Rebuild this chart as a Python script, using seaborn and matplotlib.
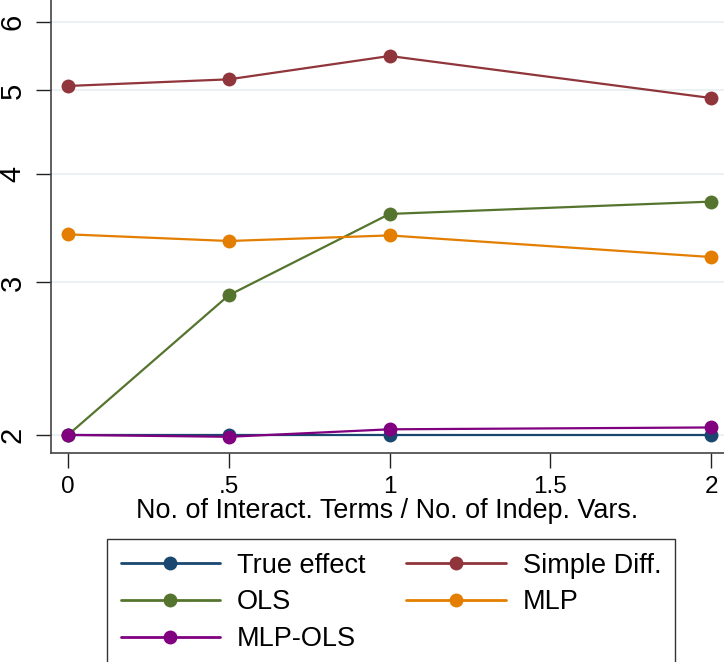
import matplotlib
matplotlib.use("Agg")
import matplotlib.pyplot as plt
import matplotlib.ticker as mticker
import numpy as np
import pandas as pd
import seaborn as sns

# Ratio of interaction terms to independent variables
x_vals = [0, 0.5, 1, 2]

true_effect = [2.0, 2.0, 2.0, 2.0]
simple_diff = [5.06, 5.15, 5.48, 4.90]
ols = [2.0, 2.90, 3.60, 3.72]
mlp = [3.41, 3.35, 3.40, 3.21]
mlp_ols = [2.0, 1.99, 2.03, 2.04]

series_names = ["True effect", "Simple Diff.", "OLS", "MLP", "MLP-OLS"]
series_colors = ["#1a476f", "#90353b", "#55752f", "#e37e00", "#800080"]

x_ticks = [0, 0.5, 1, 1.5, 2]
x_tick_labels = ["0", ".5", "1", "1.5", "2"]
y_ticks = [2, 3, 4, 5, 6]
y_tick_labels = ["2", "3", "4", "5", "6"]

df = pd.DataFrame({
    "x": x_vals * 5,
    "value": true_effect + simple_diff + ols + mlp + mlp_ols,
    "series": sum([[n] * len(x_vals) for n in series_names], []),
})

sns.set_theme(style="white")
plt.rcParams["font.family"] = ["Liberation Sans", "DejaVu Sans"]
plt.rcParams["text.color"] = "black"
plt.rcParams["axes.labelcolor"] = "black"
plt.rcParams["xtick.color"] = "black"
plt.rcParams["ytick.color"] = "black"

fig = plt.figure(figsize=(7.24, 6.62), dpi=100)
ax = fig.add_axes([51 / 724, 1 - 453 / 662, 1 - 51 / 724, 453 / 662])

sns.lineplot(data=df, x="x", y="value", hue="series", hue_order=series_names,
             palette=series_colors, marker="o", markersize=10, markeredgewidth=0,
             linewidth=1.6, ax=ax, legend=True)

ax.set_yscale("log")
ax.set_ylim(1.906, 6.36)
ax.set_xlim(-0.053, 2.04)

ax.yaxis.set_major_locator(mticker.FixedLocator(y_ticks))
ax.yaxis.set_major_formatter(mticker.FixedFormatter(y_tick_labels))
ax.yaxis.set_minor_locator(mticker.NullLocator())
ax.set_xticks(x_ticks)
ax.set_xticklabels(x_tick_labels)

for yt in y_ticks:
    ax.axhline(yt, color="#eaf2f3", linewidth=1.5, zorder=0)

ax.tick_params(axis="both", which="major", direction="out", length=11, width=1,
               color="#222222", left=True, bottom=True)
ax.tick_params(axis="x", labelsize=17.5, pad=5.5)
ax.tick_params(axis="y", labelsize=21, pad=6.5)
for lab in ax.get_yticklabels():
    lab.set_rotation(90)
    lab.set_va("center")

for s in ["top", "right"]:
    ax.spines[s].set_visible(False)
for s in ["left", "bottom"]:
    ax.spines[s].set_color("#444444")
    ax.spines[s].set_linewidth(1.2)

ax.set_xlabel("No. of Interact. Terms / No. of Indep. Vars.", fontsize=19.4, labelpad=0)
ax.set_ylabel("")

handles, labels = ax.get_legend_handles_labels()
ax.get_legend().remove()
# Reorder so that the legend reads row-wise in two columns
order = [0, 2, 4, 1, 3]
leg = fig.legend([handles[i] for i in order], [labels[i] for i in order],
                 ncol=2, loc="upper left", bbox_to_anchor=(107 / 724, 1 - 539 / 662),
                 borderaxespad=0, fontsize=19.5, frameon=True, fancybox=False,
                 edgecolor="black", handlelength=3.67, handletextpad=0.63,
                 columnspacing=1.5, borderpad=0.5, labelspacing=0.4)
leg.get_frame().set_linewidth(1.0)
for h in leg.legend_handles:
    h.set_linewidth(2.0)
    h.set_markersize(10)

fig.savefig("out.png", dpi=100)
